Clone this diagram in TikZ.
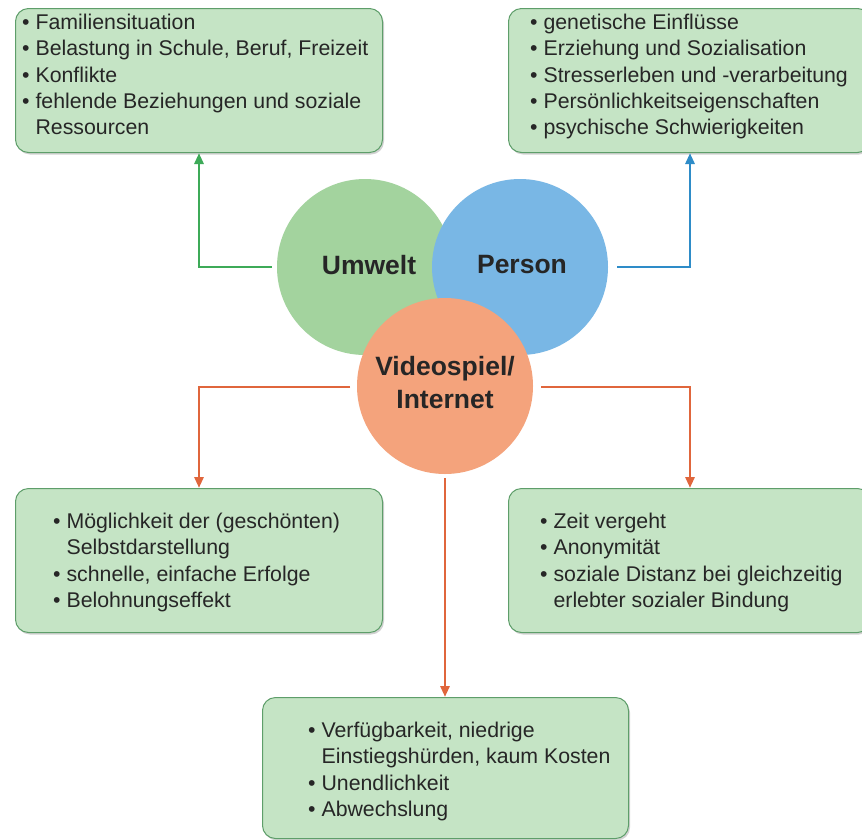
\documentclass[tikz,border=0pt]{standalone}
\usepackage{fontspec}
\setmainfont{Liberation Sans}
\usetikzlibrary{shadows,arrows.meta}
\definecolor{boxfill}{HTML}{C5E4C5}
\definecolor{boxline}{HTML}{5E9E6A}
\definecolor{cgreen}{HTML}{A3D39E}
\definecolor{cblue}{HTML}{79B7E5}
\definecolor{corange}{HTML}{F4A37C}
\definecolor{agreen}{HTML}{3DAA58}
\definecolor{ablue}{HTML}{2E8CC8}
\definecolor{aorange}{HTML}{E0663C}
\definecolor{txt}{HTML}{262626}
\tikzset{
  infobox/.style={draw=boxline, line width=1pt, fill=boxfill, rounded corners=13pt, anchor=north west,
    drop shadow={opacity=0.35, shadow xshift=1.5pt, shadow yshift=-2pt}},
  listtext/.style={anchor=north west, inner sep=0pt, align=left, text=txt,
    font=\fontsize{21.3}{26.2}\selectfont},
  circ/.style={circle, minimum size=176pt, inner sep=0pt},
  circtext/.style={text=txt, font=\fontsize{26.5}{33}\selectfont\bfseries, align=center},
  conn/.style={line width=2.8pt, -{Triangle[length=11pt,width=9pt]}},
}
\begin{document}
\begin{tikzpicture}[x=1pt,y=-1pt]
\useasboundingbox (0,0) rectangle (862,839);
\fill[white] (0,0) rectangle (862,839);
% boxes
\node[infobox, minimum width=367pt, minimum height=144pt] (b1) at (15,8) {};
\node[infobox, minimum width=362pt, minimum height=144pt] (b2) at (508,8) {};
\node[infobox, minimum width=367pt, minimum height=144pt] (b3) at (15,488) {};
\node[infobox, minimum width=362pt, minimum height=144pt] (b4) at (508,488) {};
\node[infobox, minimum width=366pt, minimum height=141pt] (b5) at (262,697) {};
% texts
\node[listtext] (t1) at (22,14) {• Familiensituation\\• Belastung in Schule, Beruf, Freizeit\\• Konflikte\\• fehlende Beziehungen und soziale\\\phantom{• }Ressourcen};
\node[listtext] (t2) at (530,14) {• genetische Einflüsse\\• Erziehung und Sozialisation\\• Stresserleben und -verarbeitung\\• Persönlichkeitseigenschaften\\• psychische Schwierigkeiten};
\node[listtext] (t3) at (53,513) {• Möglichkeit der (geschönten)\\\phantom{• }Selbstdarstellung\\• schnelle, einfache Erfolge\\• Belohnungseffekt};
\node[listtext] (t4) at (540,513) {• Zeit vergeht\\• Anonymität\\• soziale Distanz bei gleichzeitig\\\phantom{• }erlebter sozialer Bindung};
\node[listtext] (t5) at (308,722) {• Verfügbarkeit, niedrige\\\phantom{• }Einstiegshürden, kaum Kosten\\• Unendlichkeit\\• Abwechslung};
% circles
\node[circ, fill=cgreen] (cu) at (365,267) {};
\node[circ, fill=cblue] (cp) at (520,267) {};
\node[circ, fill=corange] (cv) at (445,386) {};
\node[circtext] (lu) at (369,265) {Umwelt};
\node[circtext] (lp) at (522,265) {Person};
\node[circtext] (lv) at (445,383) {Videospiel/\\Internet};
% connectors
\coordinate (gs) at (272,267);
\coordinate (bs) at (617,267);
\coordinate (ol) at (350,387);
\coordinate (or) at (541,387);
\coordinate (oc) at (445,478);
\draw[conn, agreen] (gs) -| (199,159) -- (b1.south -| 199,0);
\draw[conn, ablue] (bs) -| (690,159) -- (b2.south -| 690,0);
\draw[conn, aorange] (ol) -| (199,478) -- (b3.north -| 199,0);
\draw[conn, aorange] (or) -| (690,478) -- (b4.north -| 690,0);
\draw[conn, aorange] (oc) -- (b5.north -| oc);
\end{tikzpicture}
\end{document}
